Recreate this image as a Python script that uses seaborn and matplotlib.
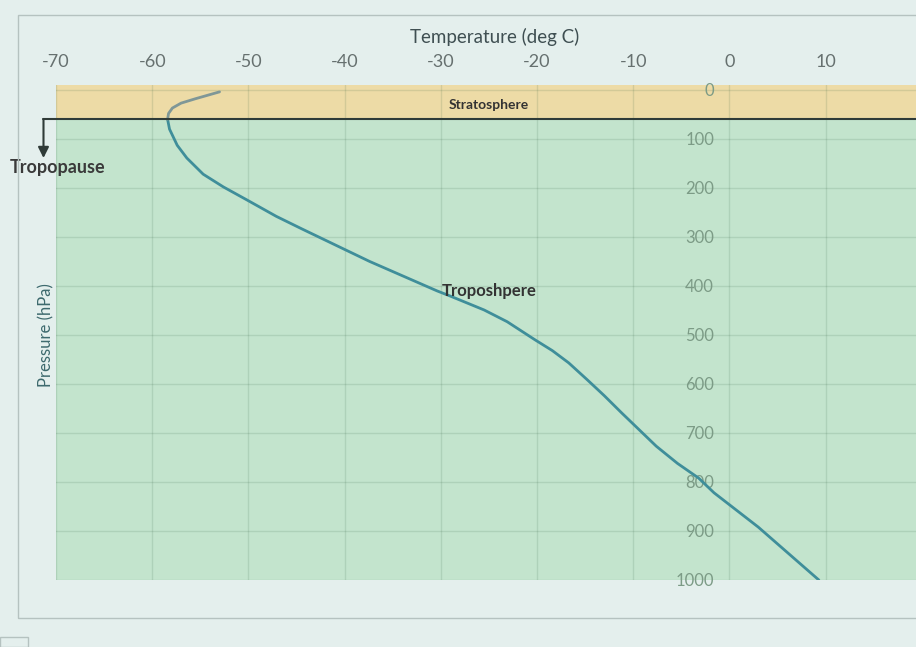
import numpy as np
import pandas as pd
import matplotlib
matplotlib.use('Agg')
import matplotlib.pyplot as plt
import seaborn as sns

sns.set_style("white")
plt.rcParams['font.family'] = ['Lato', 'DejaVu Sans']
plt.rcParams['axes.unicode_minus'] = False

# Sounding, top of the atmosphere first
pressure = [4, 18, 27, 37, 48, 60, 80, 113, 139, 172, 198, 224, 258, 284, 317,
            350, 380, 410, 420, 449, 473, 510, 532, 557, 591, 624, 659, 693,
            727, 762, 792, 822, 892, 1000]
temperature = [-53.0, -55.5, -57.0, -57.9, -58.3, -58.4, -58.2, -57.4, -56.4,
               -54.7, -52.6, -50.2, -47.1, -44.4, -40.9, -37.4, -33.9, -30.4,
               -29.1, -25.5, -23.1, -20.2, -18.4, -16.7, -14.8, -13.0, -11.2,
               -9.4, -7.6, -5.4, -3.2, -1.6, 3.0, 9.3]
tropopause = 60
x_ticks = [-70, -60, -50, -40, -30, -20, -10, 0, 10]
y_ticks = [0, 100, 200, 300, 400, 500, 600, 700, 800, 900, 1000]

df = pd.DataFrame({'Temperature': temperature, 'Pressure': pressure})
strat = df[df['Pressure'] <= tropopause]
trop = df[df['Pressure'] >= tropopause]

BG = '#e4efed'
GREEN = '#c3e4cd'
YELLOW = '#eddba6'
LINE = '#3f8e9a'
HOOK = '#7f9797'
DARK = '#2f3b38'

fig = plt.figure(figsize=(9.16, 6.47), dpi=100, facecolor=BG)
ax = fig.add_axes([56 / 916, 1 - 580 / 647, 860 / 916, 495 / 647])
ax.set_facecolor(GREEN)
ax.set_xlim(-70, 19.4)
ax.set_ylim(1000, -10)

# stratosphere band
ax.axhspan(-10, tropopause, color=YELLOW, lw=0, zorder=0.2)
ax.set_axisbelow(True)
ax.grid(True, color='#2f5f40', alpha=0.14, lw=1)

sns.lineplot(data=trop, x='Temperature', y='Pressure', sort=False,
             estimator=None, color=LINE, lw=2, ax=ax, zorder=3)
sns.lineplot(data=strat, x='Temperature', y='Pressure', sort=False,
             estimator=None, color=HOOK, lw=2, ax=ax, zorder=3)

ax.set_xticks(x_ticks)
ax.set_yticks(y_ticks)
for name, sp in ax.spines.items():
    sp.set_visible(False)
ax.spines['left'].set_visible(True)
ax.spines['left'].set_position(('data', 0))
ax.spines['left'].set_color('none')

ax.xaxis.tick_top()
ax.tick_params(axis='x', length=0, pad=11, labelsize=13, labelcolor='#66706f')
ax.tick_params(axis='y', length=0, pad=11, labelsize=12, labelcolor='#7c9b86')

ax.xaxis.set_label_position('top')
ax.set_xlabel('Temperature (deg C)', fontsize=13.5, color='#3f4f52')
ax.xaxis.set_label_coords(0.51, 1.085)
ax.set_ylabel('Pressure (hPa)', fontsize=12, color='#3e6a6e')
ax.yaxis.set_label_coords(-0.002, 0.495)

# tropopause line and arrow
ax.plot([-71.3, 19.4], [tropopause, tropopause], color=DARK, lw=1.5,
        clip_on=False, zorder=4)
ax.annotate('', xy=(-71.3, 139), xytext=(-71.3, tropopause),
            arrowprops=dict(arrowstyle='-|>', color=DARK, lw=1.5,
                            mutation_scale=16, shrinkA=0, shrinkB=0),
            annotation_clip=False, zorder=4)
ax.text(-74.8, 159, 'Tropopause', fontsize=13, fontweight='bold',
        color='#3a3a3a', ha='left', va='center')
ax.text(-25, 31, 'Stratosphere', fontsize=10, fontweight='bold',
        color='#333333', ha='center', va='center')
ax.text(-25, 410, 'Troposhpere', fontsize=12, fontweight='bold',
        color='#333333', ha='center', va='center', zorder=5)

# chart area frame
fig.add_artist(plt.Rectangle((18 / 916, 1 - 618 / 647), 1, (618 - 15) / 647,
                             transform=fig.transFigure, fill=False,
                             ec='#b5c2c0', lw=1))
fig.add_artist(plt.Rectangle((0, 0), 28 / 916, 10 / 647,
                             transform=fig.transFigure, fill=False,
                             ec='#b5c2c0', lw=1))

fig.savefig('out.png', dpi=100, facecolor=BG)
